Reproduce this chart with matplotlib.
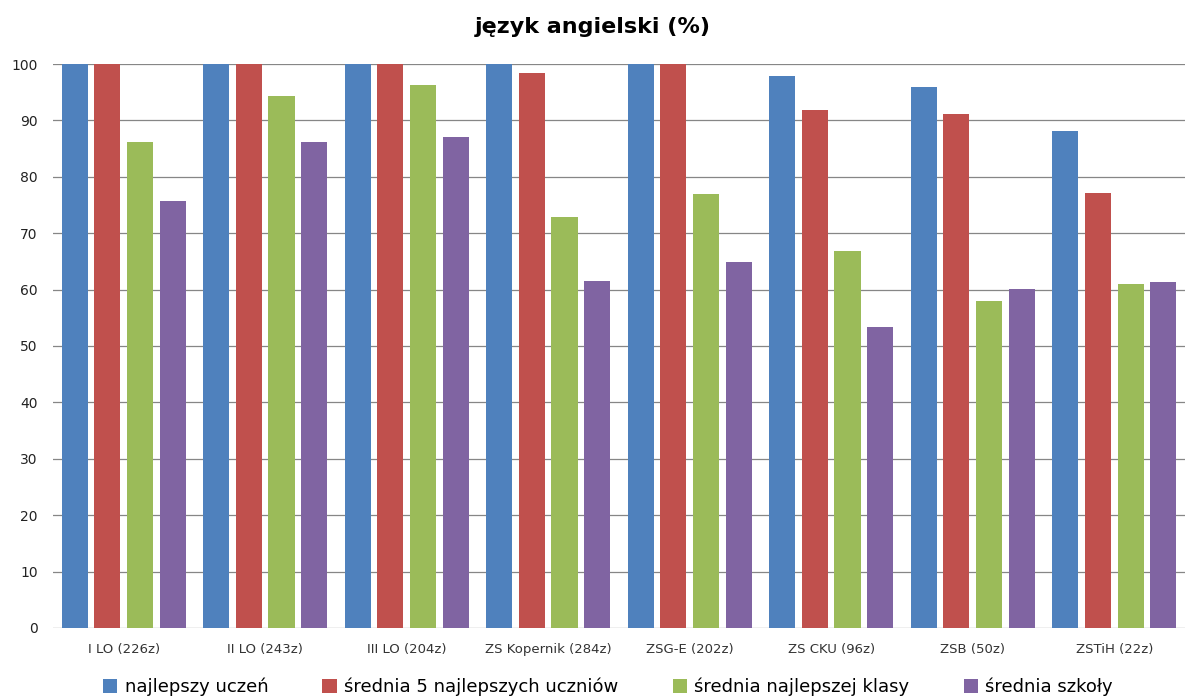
import numpy as np
import matplotlib
matplotlib.use('Agg')
import matplotlib.pyplot as plt

categories = ['I LO (226z)', 'II LO (243z)', 'III LO (204z)', 'ZS Kopernik (284z)',
              'ZSG-E (202z)', 'ZS CKU (96z)', 'ZSB (50z)', 'ZSTiH (22z)']
najlepszy = [100, 100, 100, 100, 100, 97.9, 95.9, 88.1]
srednia5 = [100, 100, 100, 98.4, 100, 91.8, 91.1, 77.1]
klasa = [86.2, 94.3, 96.3, 72.9, 77.0, 66.8, 58.0, 61.0]
szkola = [75.7, 86.2, 87.1, 61.6, 64.9, 53.4, 60.1, 61.3]
series_names = ['najlepszy uczeń', 'średnia 5 najlepszych uczniów',
                'średnia najlepszej klasy', 'średnia szkoły']

cols = ['#4F81BD', '#C0504D', '#9BBB59', '#8064A2']

fig = plt.figure(figsize=(11.85, 6.98), dpi=100)
ax = fig.add_axes([0.0447, 0.1003, 0.9553, 0.808])

x = np.arange(len(categories))
stride = 0.23
width = 0.184
for i, vals in enumerate([najlepszy, srednia5, klasa, szkola]):
    ax.bar(x + (i - 1.5) * stride, vals, width=width, color=cols[i],
           label=series_names[i], zorder=3)

ax.set_xlim(-0.5, len(categories) - 0.5)
ax.set_ylim(0, 100)
ax.set_yticks(np.arange(0, 101, 10))
ax.yaxis.grid(True, color='#868686', linewidth=0.9, zorder=0)
ax.set_axisbelow(True)
for s in ax.spines.values():
    s.set_visible(False)
ax.tick_params(axis='both', length=0)
ax.tick_params(axis='y', labelsize=10, pad=11, labelcolor='#222222')
ax.set_xticks(x)
ax.set_xticklabels(categories, fontsize=9.5, color='#333333')
ax.tick_params(axis='x', pad=10.5)

fig.suptitle('język angielski (%)', fontsize=16, fontweight='bold', y=0.975)

fig.legend(loc='lower center', ncol=4, frameon=False, fontsize=13,
           handlelength=0.8, handleheight=0.8, handletextpad=0.4,
           columnspacing=3.0, bbox_to_anchor=(0.513, -0.021))

fig.savefig('out.png', dpi=100)
